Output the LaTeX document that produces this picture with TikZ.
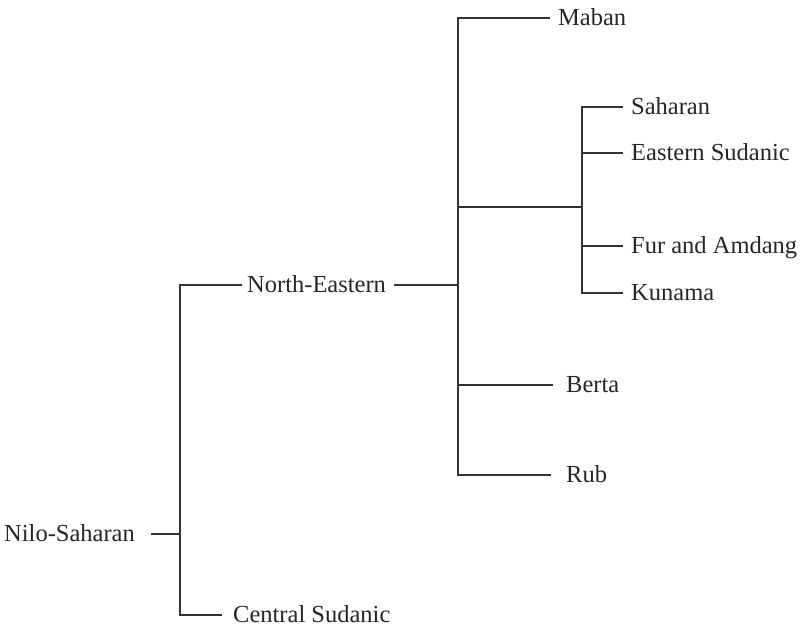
\documentclass[tikz,border=0pt]{standalone}
\usepackage{fontspec}
\setmainfont{Liberation Serif}
\begin{document}
\begin{tikzpicture}[x=1pt,y=-1pt,
  lbl/.style={anchor=base west,inner sep=0pt,font=\fontsize{24.5}{29}\selectfont,text=black!85},
  conn/.style={draw=black!80,line width=1.1pt}]
\useasboundingbox (0,0) rectangle (801,627);
% labels
\node[lbl] (nilo) at (4,541) {Nilo-Saharan};
\node[lbl] (ne) at (247,292) {North-Eastern};
\node[lbl,text depth=0pt] (cs) at (233,622) {Central Sudanic};
\node[lbl] (maban) at (558,25) {Maban};
\node[lbl] (sah) at (631,114) {Saharan};
\node[lbl] (es) at (631,160) {Eastern Sudanic};
\node[lbl] (fur) at (631,253) {Fur and Amdang};
\node[lbl] (kun) at (631,300) {Kunama};
\node[lbl] (berta) at (566,392) {Berta};
\node[lbl] (rub) at (566,482) {Rub};
% junction coordinates
\coordinate (n0) at (151,534);
\coordinate (r) at (180,534);
\coordinate (rt) at (180,285);
\coordinate (rb) at (180,615);
\coordinate (neL) at (242,285);
\coordinate (csL) at (222,615);
\coordinate (neR) at (394,285);
\coordinate (j1) at (458,285);
\coordinate (j1t) at (458,18);
\coordinate (j1b) at (458,475);
\coordinate (mabL) at (550,18);
\coordinate (j1m) at (458,207);
\coordinate (j2) at (582,207);
\coordinate (j2t) at (582,107);
\coordinate (j2b) at (582,293);
\coordinate (sahL) at (623,107);
\coordinate (j2es) at (582,153);
\coordinate (esL) at (623,153);
\coordinate (j2fur) at (582,246);
\coordinate (furL) at (623,246);
\coordinate (kunL) at (623,293);
\coordinate (j1be) at (458,385);
\coordinate (beL) at (553,385);
\coordinate (rubL) at (551,475);
% connectors
\draw[conn] (n0) -- (r);
\draw[conn] (neL) -- (rt) -- (rb) -- (csL);
\draw[conn] (neR) -- (j1);
\draw[conn] (mabL) -- (j1t) -- (j1b) -- (rubL);
\draw[conn] (j1m) -- (j2);
\draw[conn] (sahL) -- (j2t) -- (j2b) -- (kunL);
\draw[conn] (j2es) -- (esL);
\draw[conn] (j2fur) -- (furL);
\draw[conn] (j1be) -- (beL);
\end{tikzpicture}
\end{document}
